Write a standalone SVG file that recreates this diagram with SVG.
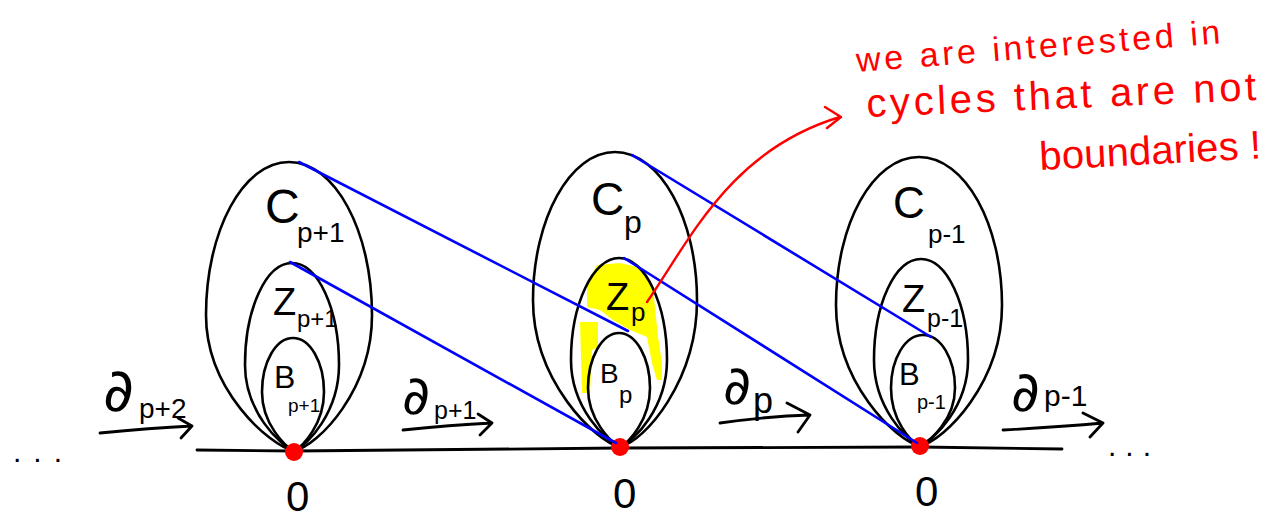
<svg xmlns="http://www.w3.org/2000/svg" width="1267" height="519" viewBox="0 0 1267 519">
<style>
.egg{fill:none;stroke:#000;stroke-width:2.6;stroke-linejoin:round}
.base{fill:none;stroke:#000;stroke-width:2.8;stroke-linecap:round}
.blue{fill:none;stroke:#0000ff;stroke-width:2.6;stroke-linecap:round}
.arr{fill:none;stroke:#000;stroke-width:2.8;stroke-linecap:round;stroke-linejoin:round}
.red{fill:none;stroke:#ff0000;stroke-width:2.4;stroke-linecap:round;stroke-linejoin:round}
.dot{fill:#ff0000}
.hl{fill:#ffff00}
.lab{font-family:"Liberation Sans",Arial,sans-serif;fill:#000}
.del{font-family:"DejaVu Sans",sans-serif;fill:#000}
.sub{font-family:"Liberation Sans",Arial,sans-serif}
.note{font-family:"Liberation Sans",Arial,sans-serif;fill:#ff0000}
</style>
<rect width="1267" height="519" fill="#fff"/>

<polyline class="base" points="197,450 294,451 620,448 920,447 1062,449"/>

<g id="chain-p-plus-1">
  <path class="egg" d="M294,451 C269,445 206,390 206,315 C206,231 243,162 289,162 C335,162 372,231 372,315 C372,390 319,445 294,451Z"/>
  <path class="egg" d="M294,451 C280,445 245,412 245,365 C245,309 266,263 292,263 C318,263 339,309 339,365 C339,412 308,445 294,451Z"/>
  <path class="egg" d="M294,451 C285,446 262,424 262,392 C262,362 276,338 293,338 C310,338 324,362 324,392 C324,424 303,446 294,451Z"/>
  <text class="lab" x="265" y="223" font-size="48">C<tspan x="297" y="242" font-size="28">p+1</tspan></text>
  <text class="lab" x="273" y="315" font-size="38">Z<tspan x="297" y="327" font-size="24">p+1</tspan></text>
  <text class="lab" x="274" y="388" font-size="32">B<tspan x="288" y="412" font-size="19">p+1</tspan></text>
  <circle class="dot" cx="294" cy="452" r="9"/>
  <text class="lab" x="286" y="511" font-size="42">0</text>
</g>

<g id="chain-p">
  <path class="hl" d="M597,265 L620,263 L637,267 L647,277 L653,290 L655,307 L658,337 L662,363 L662,380 L657,380 L652,363 L647,337 L630,330 L613,320 L600,310 L587,307 L587,283 Z"/>
  <path class="hl" d="M580,322 L598,322 L598,347 L592,350 L590,393 L582,393 Z"/>
  <path class="egg" d="M620,447 C595,441 533,381 533,300 C533,219 570,152 615,152 C660,152 697,219 697,300 C697,381 645,441 620,447Z"/>
  <path class="egg" d="M620,447 C606,441 571,408 571,360 C571,304 593,258 619,258 C645,258 667,304 667,360 C667,408 634,441 620,447Z"/>
  <path class="egg" d="M620,447 C611,442 588,420 588,388 C588,358 602,333 619,333 C636,333 650,358 650,388 C650,420 629,442 620,447Z"/>
  <text class="lab" x="591" y="215" font-size="46">C<tspan x="624" y="233" font-size="32">p</tspan></text>
  <text class="lab" x="606" y="310" font-size="38">Z<tspan x="631" y="321" font-size="26">p</tspan></text>
  <text class="lab" x="600" y="383" font-size="28">B<tspan x="619" y="403" font-size="24">p</tspan></text>
  <circle class="dot" cx="620" cy="447" r="9"/>
  <text class="lab" x="613" y="508" font-size="42">0</text>
</g>

<g id="chain-p-minus-1">
  <path class="egg" d="M920,446 C895,440 836,383 836,305 C836,224 873,157 919,157 C965,157 1002,224 1002,305 C1002,383 945,440 920,446Z"/>
  <path class="egg" d="M920,446 C906,440 874,407 874,360 C874,304 895,259 921,259 C947,259 968,304 968,360 C968,407 934,440 920,446Z"/>
  <path class="egg" d="M920,446 C910,441 891,420 891,388 C891,359 905,335 923,335 C941,335 955,359 955,388 C955,420 930,441 920,446Z"/>
  <text class="lab" x="893" y="218" font-size="44">C<tspan x="928" y="243" font-size="26">p-1</tspan></text>
  <text class="lab" x="902" y="312" font-size="38">Z<tspan x="927" y="327" font-size="25">p-1</tspan></text>
  <text class="lab" x="899" y="385" font-size="31">B<tspan x="917" y="409" font-size="20">p-1</tspan></text>
  <circle class="dot" cx="920" cy="446" r="9"/>
  <text class="lab" x="915" y="506" font-size="42">0</text>
</g>

<g id="connectors">
  <line class="blue" x1="299" y1="162" x2="628" y2="331"/>
  <line class="blue" x1="290" y1="262" x2="616" y2="443"/>
  <line class="blue" x1="632" y1="155" x2="931" y2="337"/>
  <line class="blue" x1="624" y1="258" x2="917" y2="443"/>

  <path class="arr" d="M100,433 Q150,428 192,426 M178,418 L192,426 L181,438"/>
  <path class="arr" d="M403,430 Q450,425 492,423 M478,414 L492,423 L480,435"/>
  <path class="arr" d="M720,423 Q770,416 810,415 M787,403 L810,415 L798,432"/>
  <path class="arr" d="M1003,430 Q1060,427 1103,423 M1083,413 L1103,423 L1090,437"/>

  <path class="red" d="M647,302 C690,240 730,150 840,117 M825,107 L841,117 L827,128"/>
</g>

<g id="labels">
  <text class="del" x="103" y="411" font-size="60">∂<tspan class="sub" x="139" y="418" font-size="28">p+2</tspan></text>
  <text class="del" x="402" y="414" font-size="54">∂<tspan class="sub" x="434" y="419" font-size="25">p+1</tspan></text>
  <text class="del" x="723" y="404" font-size="54">∂<tspan class="sub" x="753" y="413" font-size="36">p</tspan></text>
  <text class="del" x="1011" y="411" font-size="56">∂<tspan class="sub" x="1044" y="406" font-size="30">p-1</tspan></text>
  <text class="lab" x="13" y="462" font-size="30" letter-spacing="12">...</text>
  <text class="lab" x="1108" y="456" font-size="30" letter-spacing="9">...</text>
</g>

<g id="annotation">
  <text class="note" x="857" y="72" font-size="34" textLength="365" lengthAdjust="spacing" transform="rotate(-4.5 857 72)">we are interested in</text>
  <text class="note" x="867" y="117" font-size="40" textLength="390" lengthAdjust="spacing" transform="rotate(-2.5 867 117)">cycles that are not</text>
  <text class="note" x="1040" y="170" font-size="40" textLength="222" lengthAdjust="spacing" transform="rotate(-3 1040 170)">boundaries !</text>
</g>
</svg>
